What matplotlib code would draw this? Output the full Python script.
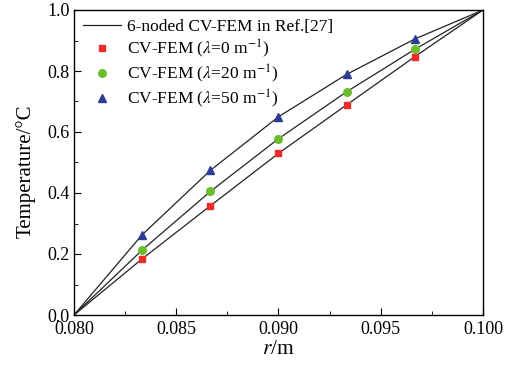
import matplotlib
matplotlib.use("Agg")
import matplotlib.pyplot as plt
from matplotlib.ticker import MultipleLocator, FormatStrFormatter

plt.rcParams['font.family'] = ['Liberation Serif', 'DejaVu Serif']
plt.rcParams['mathtext.fontset'] = 'stix'

r = [0.08, 0.083333, 0.086667, 0.09, 0.093333, 0.096667, 0.1]
t0 = [0.0, 0.184, 0.358, 0.530, 0.689, 0.847, 1.0]
t20 = [0.0, 0.213, 0.405, 0.578, 0.732, 0.871, 1.0]
t50 = [0.0, 0.263, 0.474, 0.650, 0.789, 0.905, 1.0]

fig = plt.figure(figsize=(5.08, 3.68), dpi=100)
ax = fig.add_axes([74/508, 1-315/368, 409/508, 305/368])

ax.plot(r, t0, color='#222222', lw=0.9, label='6-noded CV-FEM in Ref.[27]')
ax.plot(r, t20, color='#222222', lw=0.9)
ax.plot(r, t50, color='#222222', lw=0.9)
ax.plot(r[1:-1], t0[1:-1], 's', color='#ee2b2b', ms=5, ls='none',
        label=r'CV-FEM ($\lambda$=0 m$^{-1}$)')
ax.plot(r[1:-1], t20[1:-1], 'o', color='#6cbd2e', ms=5.5, ls='none',
        label=r'CV-FEM ($\lambda$=20 m$^{-1}$)')
ax.plot(r[1:-1], t50[1:-1], '^', color='#2e3d94', ms=6, ls='none',
        label=r'CV-FEM ($\lambda$=50 m$^{-1}$)')

ax.set_xlim(0.08, 0.1)
ax.set_ylim(0.0, 1.0)
ax.xaxis.set_major_locator(MultipleLocator(0.005))
ax.xaxis.set_minor_locator(MultipleLocator(0.0025))
ax.yaxis.set_major_locator(MultipleLocator(0.2))
ax.yaxis.set_minor_locator(MultipleLocator(0.1))
ax.xaxis.set_major_formatter(FormatStrFormatter('%.3f'))
ax.yaxis.set_major_formatter(FormatStrFormatter('%.1f'))
ax.tick_params(which='both', direction='in', top=False, right=False, labelsize=13)
ax.tick_params(which='major', length=5)
ax.tick_params(which='minor', length=3)
ax.tick_params(axis='x', pad=4)
ax.tick_params(axis='y', pad=3)
for s in ax.spines.values():
    s.set_linewidth(1.0)

ax.set_xlabel(r'$\it{r}$/m', fontsize=15.5, labelpad=2)
ax.set_ylabel('Temperature/°C', fontsize=15)
ax.yaxis.set_label_coords(-0.093, 0.472)

ax.legend(loc='upper left', frameon=False, fontsize=12.5, handlelength=2.2,
          borderaxespad=0.1, labelspacing=0.15, handletextpad=0.35,
          borderpad=0.4)

fig.savefig('out.png', dpi=100)
